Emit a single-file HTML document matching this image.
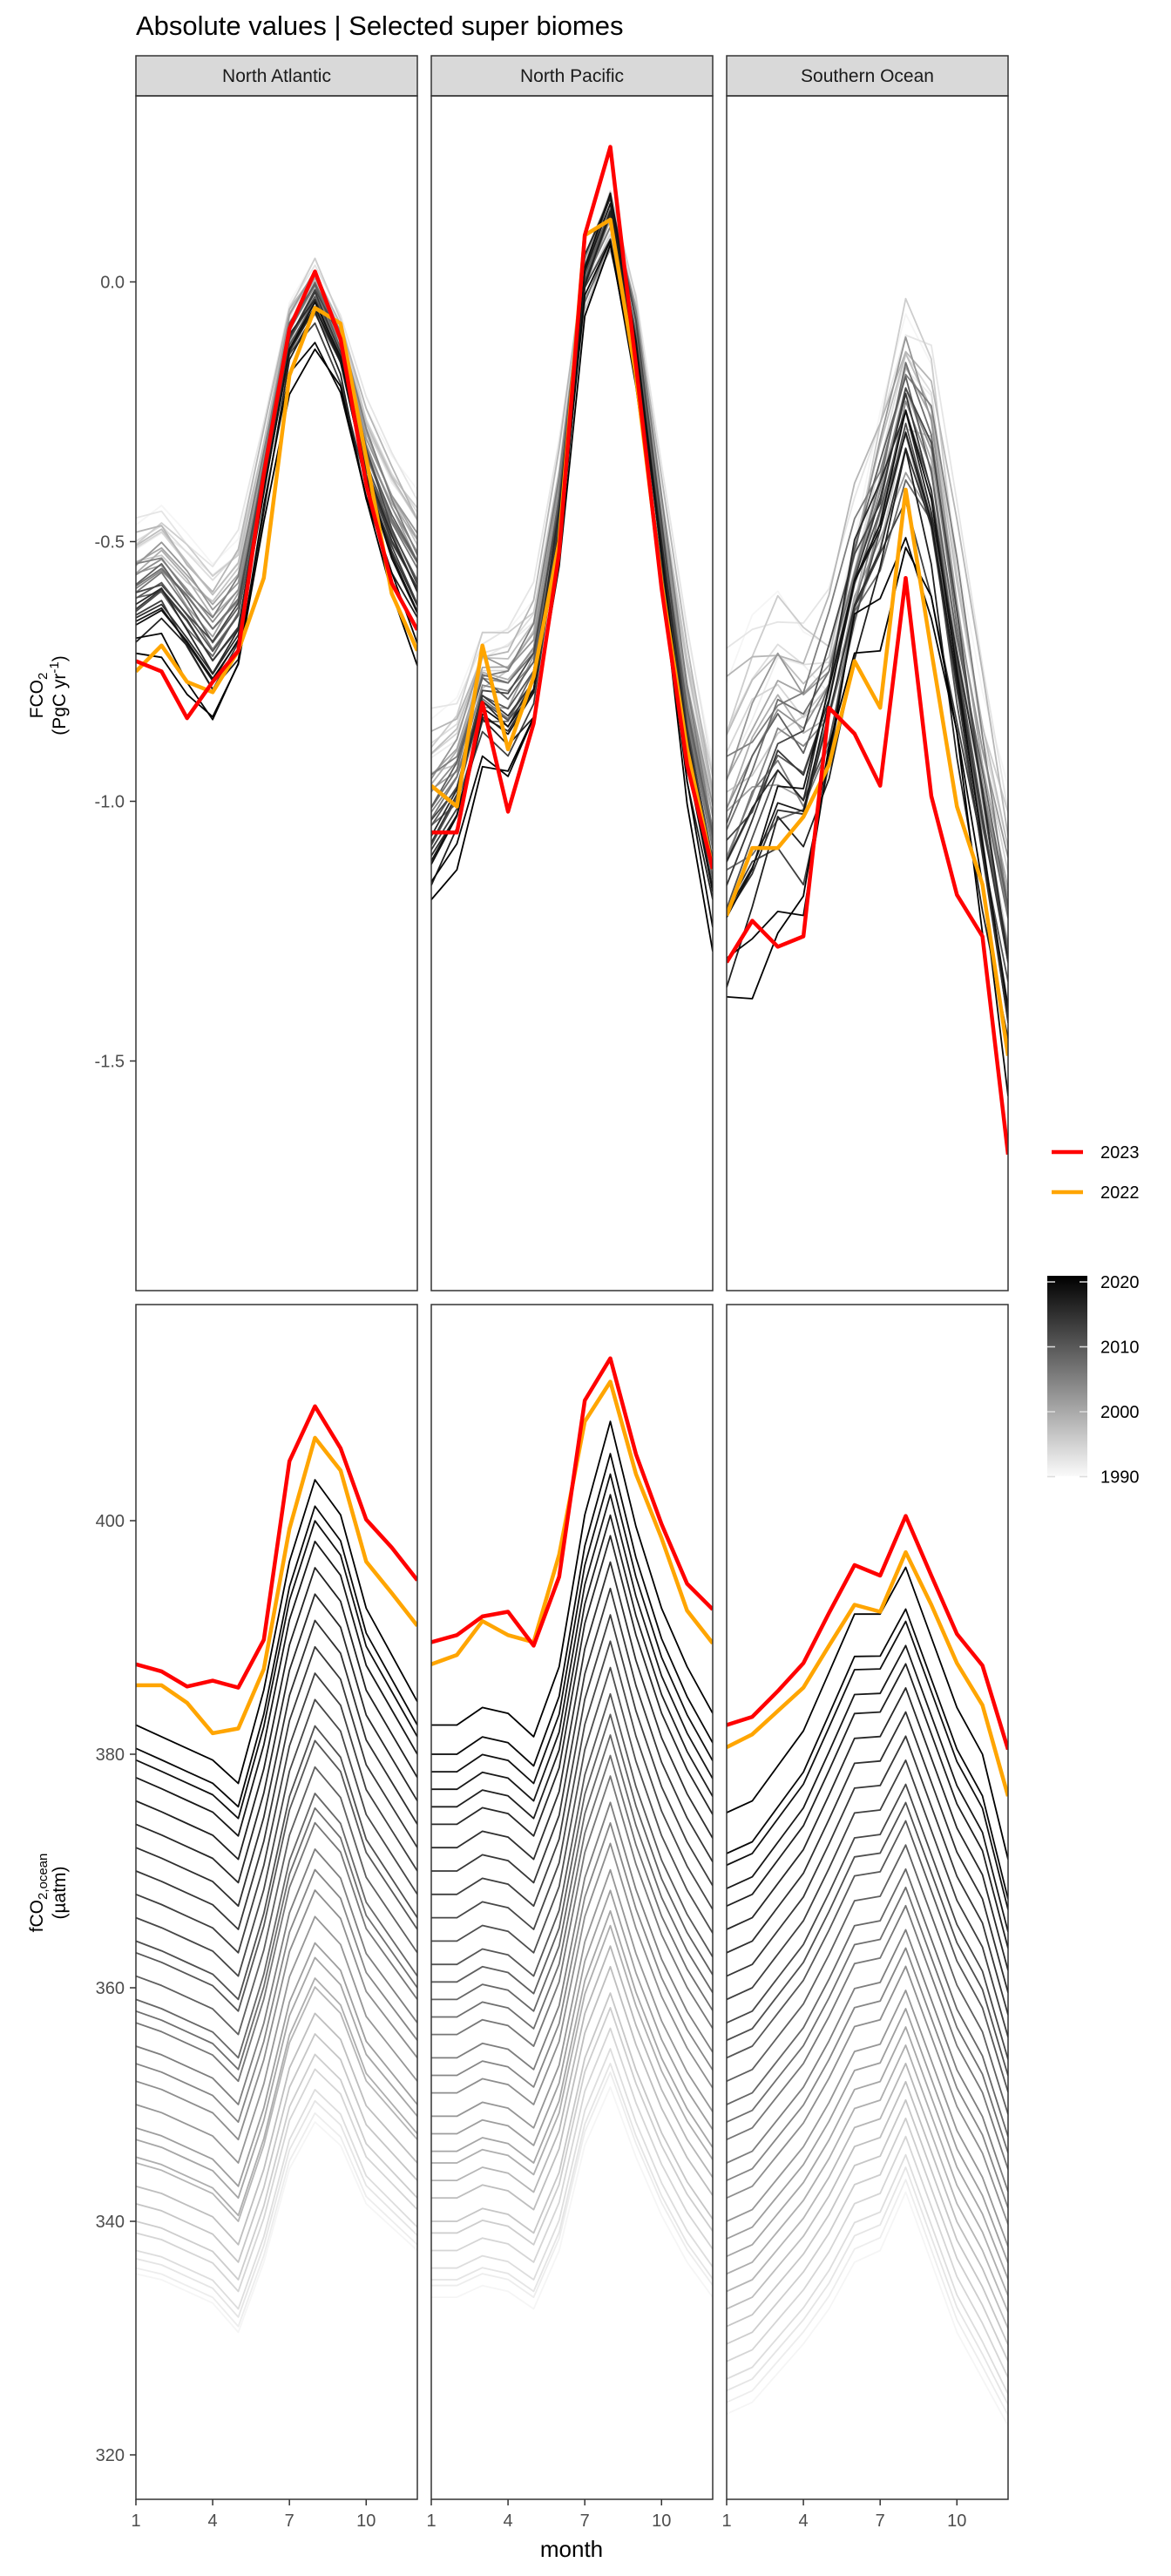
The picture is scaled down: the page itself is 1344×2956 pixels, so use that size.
<!DOCTYPE html>
<html><head><meta charset="utf-8"><title>Absolute values | Selected super biomes</title>
<style>
html,body{margin:0;padding:0;background:#fff;}
svg{display:block;font-family:"Liberation Sans",Arial,sans-serif;}
</style></head>
<body>
<svg id="chart" width="1344" height="2956" viewBox="0 0 1344 2956" xmlns="http://www.w3.org/2000/svg">
<defs>
<linearGradient id="cbar" x1="0" y1="0" x2="0" y2="1">
<stop offset="0" stop-color="#000"/><stop offset="1" stop-color="#fafafa"/>
</linearGradient>
</defs>
<text x="156" y="40" font-size="31" fill="#000">Absolute values | Selected super biomes</text>
<g id="panels"></g>
<g transform="translate(55,798) rotate(-90)" font-size="21" fill="#000" text-anchor="middle">
<text y="-6">FCO<tspan font-size="15" dy="5">2</tspan></text>
<text y="20">(PgC yr<tspan font-size="15" dy="-8">-1</tspan><tspan dy="8">)</tspan></text>
</g>
<g transform="translate(55,2172) rotate(-90)" font-size="21" fill="#000" text-anchor="middle">
<text y="-6">fCO<tspan font-size="15" dy="5">2,ocean</tspan></text>
<text y="20">(µatm)</text>
</g>
<text x="656" y="2934" font-size="26" text-anchor="middle" fill="#000">month</text>
<g>
<line x1="1207" y1="1322" x2="1243" y2="1322" stroke="#ff0000" stroke-width="4.5"/>
<text x="1263" y="1329" font-size="20">2023</text>
<line x1="1207" y1="1368" x2="1243" y2="1368" stroke="#ffa500" stroke-width="4.5"/>
<text x="1263" y="1375" font-size="20">2022</text>
</g>
<g id="cb">
<rect x="1202" y="1464" width="46" height="230" fill="url(#cbar)"/>
</g>
</svg>
<script>
const years = [1990,1991,1992,1993,1994,1995,1996,1997,1998,1999,2000,2001,2002,2003,2004,2005,2006,2007,2008,2009,2010,2011,2012,2013,2014,2015,2016,2017,2018,2019,2020,2021];
const months = [1,2,3,4,5,6,7,8,9,10,11,12];
const panelNames = ["North Atlantic","North Pacific","Southern Ocean"];
// FCO2 (top row)
const fluxEarlyNA = [-0.48,-0.45,-0.50,-0.55,-0.50,-0.30,-0.06,0.03,-0.08,-0.25,-0.35,-0.42];
const fluxLateNA  = [-0.68,-0.65,-0.72,-0.80,-0.72,-0.42,-0.14,-0.06,-0.17,-0.40,-0.55,-0.66];
const fluxEarlyNP = [-0.86,-0.83,-0.70,-0.68,-0.62,-0.35,0.00,0.12,-0.05,-0.40,-0.70,-0.95];
const fluxLateNP  = [-1.15,-1.05,-0.85,-0.90,-0.82,-0.50,0.02,0.15,-0.15,-0.55,-0.95,-1.20];
const fluxEarlySO = [-0.82,-0.72,-0.66,-0.70,-0.72,-0.55,-0.33,-0.12,-0.18,-0.55,-0.85,-1.05];
const fluxLateSO  = [-1.28,-1.18,-1.05,-1.08,-0.85,-0.60,-0.50,-0.32,-0.52,-0.82,-1.12,-1.45];
const fluxShiftNA = [0.02,-0.03,0.04,0.00,-0.02,0.03,-0.04,0.02,0.05,-0.03,0.01,-0.05,0.03,0.00,-0.02,0.04,-0.03,0.02,-0.04,0.03,0.00,-0.02,0.04,-0.05,0.02,-0.01,0.03,-0.04,0.01,0.02,-0.06,-0.08];
const fluxShiftNP = [0.03,-0.05,0.06,0.00,-0.04,0.05,-0.06,0.02,0.07,-0.03,0.01,-0.07,0.04,0.00,-0.03,0.06,-0.05,0.03,-0.06,0.04,0.00,-0.03,0.05,-0.07,0.02,-0.02,0.04,-0.05,0.01,0.03,-0.07,-0.09];
const fluxShiftSO = [0.08,-0.12,0.15,0.00,-0.09,0.12,-0.15,0.06,0.18,-0.08,0.03,-0.18,0.10,0.00,-0.08,0.15,-0.12,0.08,-0.15,0.09,0.00,-0.08,0.12,-0.18,0.06,-0.05,0.10,-0.14,0.03,0.08,-0.18,-0.22];
const flux2022NA = [-0.75,-0.70,-0.77,-0.79,-0.71,-0.57,-0.18,-0.05,-0.08,-0.34,-0.60,-0.71];
const flux2023NA = [-0.73,-0.75,-0.84,-0.77,-0.71,-0.37,-0.09,0.02,-0.11,-0.39,-0.58,-0.67];
const flux2022NP = [-0.97,-1.01,-0.70,-0.90,-0.76,-0.50,0.09,0.12,-0.18,-0.58,-0.90,-1.13];
const flux2023NP = [-1.06,-1.06,-0.81,-1.02,-0.85,-0.52,0.09,0.26,-0.16,-0.59,-0.93,-1.13];
const flux2022SO = [-1.22,-1.09,-1.09,-1.03,-0.93,-0.73,-0.82,-0.40,-0.71,-1.01,-1.16,-1.49];
const flux2023SO = [-1.31,-1.23,-1.28,-1.26,-0.82,-0.87,-0.97,-0.57,-0.99,-1.18,-1.26,-1.68];
// fCO2,ocean (bottom row)
const fco2EarlyNA = [0,-0.5,-1.5,-2.5,-5,1,9,13,11,6,4,2];
const fco2LateNA  = [0,-1,-2,-3,-5,3,14,21,18,10,6,2];
const fco2EarlyNP = [0,0,1,0.5,-1,4,13,18,12,7,3,0];
const fco2LateNP  = [0,0,1.5,1,-1,5,18,26,17,10,5,1];
const fco2EarlySO = [0,1,3.5,6,9,13,14,19,13,7,3,-1];
const fco2LateSO  = [0,1,4,7,12,17,17,21,15,9,5,-4];
const fco2LevelNA = [335.5,336,336.8,337.5,339,340,341.5,343,345,345.5,347,348,350,352,353.5,355,357,358,359,361,363,364,366,368,370,372,374,376,378,379.5,380.5,382.5];
const fco2LevelNP = [333.5,334.5,335,336,337.5,339,340,342,343.5,345,346,347.5,349,351,352.5,354,356,357.5,359,360.5,362,364,366,368,370,372,374,375.5,377,378.5,380,382.5];
const fco2LevelSO = [323.5,324.5,325.5,326.5,328,329.5,331,332.5,334,335.5,337,338.5,340,342,343.5,345,347,348.5,350,352,354,355.5,357,359,361,363,365,367,368.5,370.5,371.5,375];
const fco22022NA = [385.9,385.9,384.4,381.8,382.2,387.3,399.3,407.1,404.3,396.5,393.8,391.0];
const fco22023NA = [387.7,387.1,385.8,386.3,385.7,389.8,405.1,409.8,406.2,400.1,397.7,394.9];
const fco22022NP = [387.7,388.5,391.4,390.2,389.6,397.1,408.5,411.9,404.0,398.5,392.3,389.5];
const fco22023NP = [389.6,390.2,391.8,392.2,389.3,395.2,410.3,413.9,405.7,399.7,394.6,392.4];
const fco22022SO = [380.6,381.7,383.7,385.7,389.3,392.8,392.2,397.3,392.8,387.8,384.2,376.4];
const fco22023SO = [382.5,383.2,385.4,387.8,392.1,396.2,395.3,400.4,395.3,390.3,387.6,380.4];
const topTicks = [0.0,-0.5,-1.0,-1.5];
const topTickLabels = ["0.0","-0.5","-1.0","-1.5"];
const botTicks = [400,380,360,340,320];
const botTickLabels = ["400","380","360","340","320"];
const xTicks = [1,4,7,10];
const cbTicks = [2020,2010,2000,1990];

const NS = "http://www.w3.org/2000/svg";
const panelX = [156,495,834], panelW = 323;
const topY0 = 110, topY1 = 1481, botY0 = 1497, botY1 = 2868;
function xs(m,p){return panelX[p] + (m-1)*panelW/11;}
function yTop(v){return 323.5 - v*596;}
function yBot(v){return 1745 - (v-400)*13.4;}
function yCb(y){return 1471 + (2020-y)*7.45;}
function mk(tag,attrs,parent){const e=document.createElementNS(NS,tag);for(const k in attrs)e.setAttribute(k,attrs[k]);parent.appendChild(e);return e;}
const root = document.getElementById('panels');
const fluxE=[fluxEarlyNA,fluxEarlyNP,fluxEarlySO], fluxL=[fluxLateNA,fluxLateNP,fluxLateSO], fluxS=[fluxShiftNA,fluxShiftNP,fluxShiftSO];
const f22=[flux2022NA,flux2022NP,flux2022SO], f23=[flux2023NA,flux2023NP,flux2023SO];
const cE=[fco2EarlyNA,fco2EarlyNP,fco2EarlySO], cL=[fco2LateNA,fco2LateNP,fco2LateSO], cLv=[fco2LevelNA,fco2LevelNP,fco2LevelSO];
const c22=[fco22022NA,fco22022NP,fco22022SO], c23=[fco22023NA,fco22023NP,fco22023SO];
function grayFor(y){const t=Math.min(1,(y-1990)/31);const g=Math.round(245*(1-t));return `rgb(${g},${g},${g})`;}
function path(vals,p,yf){return vals.map((v,i)=>(i?'L':'M')+xs(months[i],p).toFixed(1)+','+yf(v).toFixed(1)).join(' ');}

for(let p=0;p<3;p++){
  const defs = mk('defs',{},root);
  const cp1 = mk('clipPath',{id:'ct'+p},defs); mk('rect',{x:panelX[p],y:topY0,width:panelW,height:topY1-topY0},cp1);
  const cp2 = mk('clipPath',{id:'cb'+p},defs); mk('rect',{x:panelX[p],y:botY0,width:panelW,height:botY1-botY0},cp2);
  const strip = mk('rect',{x:panelX[p],y:64,width:panelW,height:46,fill:'#d9d9d9',stroke:'#333','stroke-width':1.5},root);
  
  
  const st = mk('text',{x:panelX[p]+panelW/2,y:94,'font-size':21,'text-anchor':'middle',fill:'#1a1a1a'},root);
  st.textContent = panelNames[p];
  
  
  const gt = mk('g',{'clip-path':'url(#ct'+p+')',fill:'none','stroke-linejoin':'round'},root);
  
  
  years.forEach((y,k)=>{
    const w=k/(years.length-1);
    const vals=months.map((m,i)=>fluxE[p][i]*(1-w)+fluxL[p][i]*w+fluxS[p][k]*(0.6+0.4*Math.sin(i*1.3+k)));
    const l=mk('path',{d:path(vals,p,yTop),stroke:grayFor(y),'stroke-width':1.8},gt);
    
    
  });
  let l=mk('path',{d:path(f22[p],p,yTop),stroke:'#ffa500','stroke-width':4.5},gt);
  
  
  l=mk('path',{d:path(f23[p],p,yTop),stroke:'#ff0000','stroke-width':4.5},gt);
  
  
  const gb = mk('g',{'clip-path':'url(#cb'+p+')',fill:'none','stroke-linejoin':'round'},root);
  
  
  years.forEach((y,k)=>{
    const w=k/(years.length-1);
    const vals=months.map((m,i)=>cLv[p][k]+cE[p][i]*(1-w)+cL[p][i]*w);
    const l2=mk('path',{d:path(vals,p,yBot),stroke:grayFor(y),'stroke-width':1.8},gb);
    
    
  });
  l=mk('path',{d:path(c22[p],p,yBot),stroke:'#ffa500','stroke-width':4.5},gb);
  
  
  l=mk('path',{d:path(c23[p],p,yBot),stroke:'#ff0000','stroke-width':4.5},gb);
  
  
  let b=mk('rect',{x:panelX[p],y:topY0,width:panelW,height:topY1-topY0,fill:'none',stroke:'#333','stroke-width':1.5},root);
  
  
  b=mk('rect',{x:panelX[p],y:botY0,width:panelW,height:botY1-botY0,fill:'none',stroke:'#333','stroke-width':1.5},root);
  
  
  xTicks.forEach(m=>{
    const x=xs(m,p);
    const t=mk('line',{x1:x,y1:botY1,x2:x,y2:botY1+7,stroke:'#333','stroke-width':1.5},root);
    
    
    const tl=mk('text',{x:x,y:2899,'font-size':20,'text-anchor':'middle',fill:'#4d4d4d'},root);
    tl.textContent=String(m);
    
    
  });
}
topTicks.forEach((v,i)=>{
  const y=yTop(v);
  const t=mk('line',{x1:149,y1:y,x2:156,y2:y,stroke:'#333','stroke-width':1.5},root);
  
  
  const tl=mk('text',{x:143,y:y+7,'font-size':20,'text-anchor':'end',fill:'#4d4d4d'},root);
  tl.textContent=topTickLabels[i];
  
  
});
botTicks.forEach((v,i)=>{
  const y=yBot(v);
  const t=mk('line',{x1:149,y1:y,x2:156,y2:y,stroke:'#333','stroke-width':1.5},root);
  
  
  const tl=mk('text',{x:143,y:y+7,'font-size':20,'text-anchor':'end',fill:'#4d4d4d'},root);
  tl.textContent=botTickLabels[i];
  
  
});
const cb=document.getElementById('cb');
cbTicks.forEach(yr=>{
  const y=yCb(yr);
  mk('line',{x1:1202,y1:y,x2:1211,y2:y,stroke:'#ddd','stroke-width':1.5},cb);
  mk('line',{x1:1239,y1:y,x2:1248,y2:y,stroke:'#ddd','stroke-width':1.5},cb);
  const tl=mk('text',{x:1263,y:y+7,'font-size':20,fill:'#000'},cb);
  tl.textContent=String(yr);
  
  
});
</script>
</body></html>
